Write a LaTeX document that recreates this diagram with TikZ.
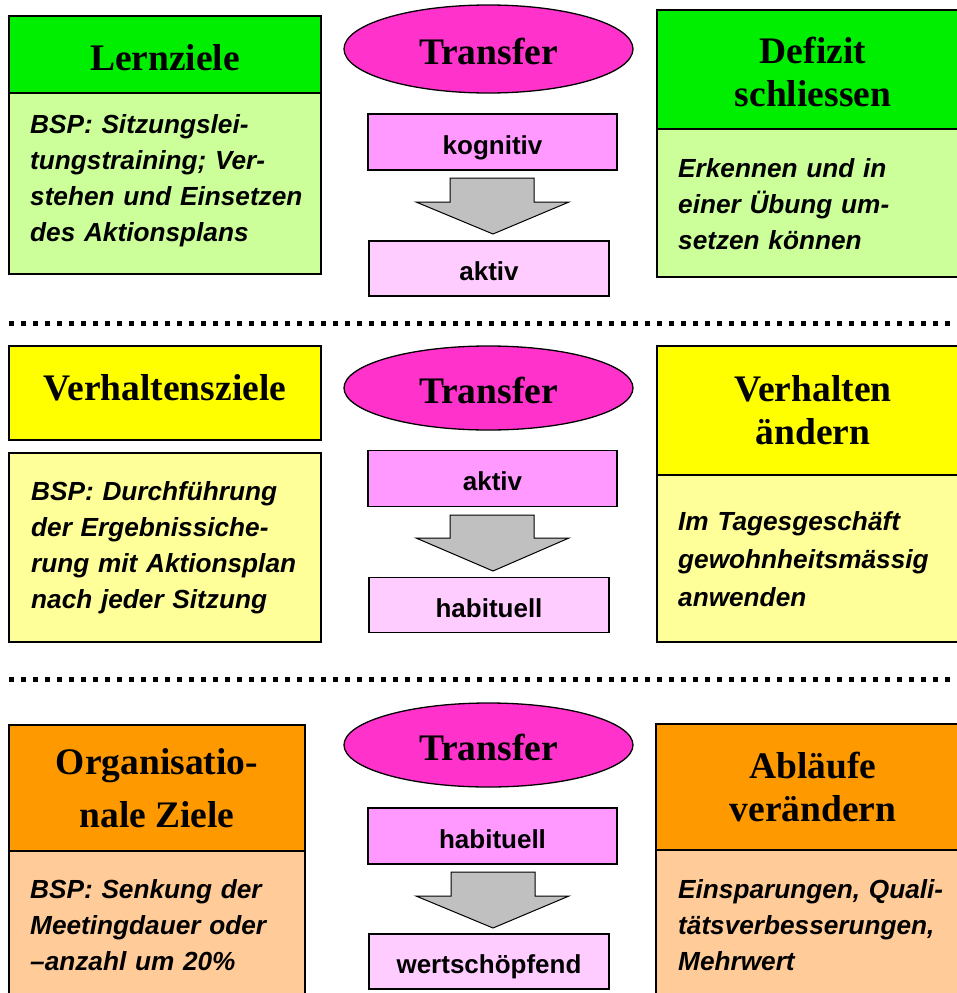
\documentclass[tikz,border=0pt]{standalone}
\usepackage{fontspec}
\setmainfont{Liberation Serif}
\newfontfamily\arialfont{Liberation Sans}
\usetikzlibrary{shapes.geometric}
\definecolor{hgreen}{HTML}{00EE00}
\definecolor{lgreen}{HTML}{CCFF99}
\definecolor{hyellow}{HTML}{FFFF00}
\definecolor{lyellow}{HTML}{FFFF99}
\definecolor{horange}{HTML}{FF9900}
\definecolor{lorange}{HTML}{FFCC99}
\definecolor{tmag}{HTML}{FF33CC}
\definecolor{pinkA}{HTML}{FF99FF}
\definecolor{pinkB}{HTML}{FFCCFF}
\definecolor{arrowgray}{HTML}{C0C0C0}
\tikzset{
  box/.style={draw=black, line width=1.8pt, inner sep=0pt, minimum width=312pt},
  hdr/.style={box, align=center, font=\fontsize{37.5}{43}\selectfont\bfseries},
  bodytxt/.style={inner sep=0pt, anchor=base west, align=left, text width=300pt,
    font=\fontsize{26.2}{36}\selectfont\arialfont\bfseries\itshape},
  transfer/.style={ellipse, draw=black, line width=1.3pt, fill=tmag, minimum width=289pt,
    inner sep=0pt, text height=30pt, text depth=0pt, font=\fontsize{37.5}{43}\selectfont\bfseries},
  stageA/.style={draw=black, line width=1.5pt, fill=pinkA, minimum width=249pt, minimum height=56pt,
    inner sep=0pt, text height=24pt, text depth=0pt, font=\fontsize{26}{30}\selectfont\arialfont\bfseries},
  stageB/.style={stageA, fill=pinkB, minimum width=240pt, minimum height=55pt},
  blockarrow/.style={draw=black, line width=1pt, fill=arrowgray, line join=miter},
  sepline/.style={line width=5pt, dash pattern=on 5pt off 7pt}
}
\begin{document}
\begin{tikzpicture}[x=1pt,y=-1pt]
\useasboundingbox (0,0) rectangle (957,993);
\clip (0,0) rectangle (957,993);

% ---------- row 1 ----------
\node[box, fill=lgreen, minimum height=181pt] (b1) at (165,183.5) {};
\node[hdr, fill=hgreen, minimum height=77pt, text height=31pt, text depth=0pt] (h1) at (165,54.5) {Lernziele};
\node[bodytxt] (t1) at (30,133) {BSP: Sitzungslei-\\tungstraining; Ver-\\stehen und Einsetzen\\des Aktionsplans};

\node[box, fill=lgreen, minimum height=148pt] (b2) at (813,203) {};
\node[hdr, fill=hgreen, minimum height=119pt, text height=74pt, text depth=0pt] (h2) at (813,69.5) {Defizit\\schliessen};
\node[bodytxt] (t2) at (678,177) {Erkennen und in\\einer Übung um-\\setzen können};

\node[transfer, minimum height=88pt] (e1) at (488.5,49) {Transfer};
\node[stageA] (s1a) at (492.5,142) {kognitiv};
\node[stageB] (s1b) at (489,268.5) {aktiv};
\draw[blockarrow] (450,178) -- (534,178) -- (534,202) -- (569,202) -- (493,234) -- (416,202) -- (450,202) -- cycle;

\draw[sepline] (9,323) -- (957,323);

% ---------- row 2 ----------
\node[box, fill=lyellow, minimum height=189pt] (b3) at (165,547.5) {};
\node[hdr, fill=hyellow, minimum height=94pt, text height=14pt, text depth=0pt] (h3) at (165,393) {Verhaltensziele};
\node[bodytxt] (t3) at (31,500) {BSP: Durchführung\\der Ergebnissiche-\\rung mit Aktionsplan\\nach jeder Sitzung};

\node[box, fill=lyellow, minimum height=167pt] (b4) at (813,558.5) {};
\node[hdr, fill=hyellow, minimum height=129pt] (h4) at (813,410.5) {Verhalten\\ändern};
\node[bodytxt] (t4) at (678,530) {Im Tagesgeschäft\\[2pt]gewohnheitsmässig\\[2pt]anwenden};

\node[transfer, minimum height=84pt] (e2) at (488.5,388) {Transfer};
\node[stageA] (s2a) at (492.5,478.5) {aktiv};
\node[stageB] (s2b) at (489,605) {habituell};
\draw[blockarrow] (450,515) -- (534,515) -- (534,538) -- (569,538) -- (493,571) -- (416,538) -- (450,538) -- cycle;

\draw[sepline] (9,679) -- (957,679);

% ---------- row 3 ----------
\node[box, fill=lorange, minimum width=296pt, minimum height=152pt] (b5) at (157,927) {};
\node[hdr, fill=horange, minimum width=296pt, minimum height=126pt] (h5) at (157,788) {Organisatio-\\[10pt]nale Ziele};
\node[bodytxt] (t5) at (30,898) {BSP: Senkung der\\Meetingdauer oder\\–anzahl um 20\%};

\node[box, fill=lorange, minimum width=314pt, minimum height=153pt] (b6) at (813,926.5) {};
\node[hdr, fill=horange, minimum width=314pt, minimum height=126pt] (h6) at (813,787) {Abläufe\\verändern};
\node[bodytxt] (t6) at (678,898) {Einsparungen, Quali-\\tätsverbesserungen,\\Mehrwert};

\node[transfer, minimum height=84pt] (e3) at (488.5,745) {Transfer};
\node[stageA] (s3a) at (492.5,836) {habituell};
\node[stageB] (s3b) at (489,961.5) {wertschöpfend};
\draw[blockarrow] (451,872) -- (535,872) -- (535,896) -- (569,896) -- (493,928) -- (416,896) -- (451,896) -- cycle;
\end{tikzpicture}
\end{document}
